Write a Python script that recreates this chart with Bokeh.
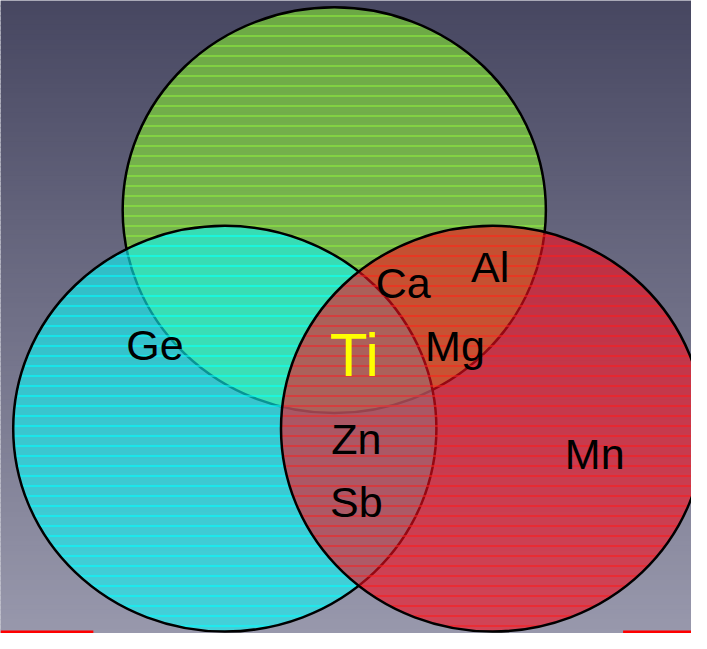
from bokeh.plotting import figure
from bokeh.models import Range1d, ColumnDataSource
from bokeh.core.properties import value
from bokeh.embed import file_html
from bokeh.resources import INLINE

# ---- data ----
set_names = ["green", "cyan", "red"]
elements = ["Ge", "Ca", "Al", "Ti", "Mg", "Zn", "Sb", "Mn"]

# ---- layout (reference pixel frame 707 x 649) ----
set_cx = [341.5, 229.5, 503.5]
set_cy = [215, 439, 439]
set_w = [433, 433, 433]
set_h = [416, 416, 416]
set_fill = ["#85e932", "#0df7f7", "#f70d1e"]
set_hatch = ["#8ef03c", "#00ffff", "#ff1a1a"]

el_x = [158, 412, 501, 362, 465, 364, 364, 608]
el_y = [353, 290, 273, 363, 354, 450, 514, 465]
el_size = ["43px", "43px", "43px", "62px", "43px", "43px", "43px", "43px"]
el_color = ["black", "black", "black", "#ffff00", "black", "black", "black", "black"]

bar_x0 = [0, 637]
bar_x1 = [95, 707]
bar_y = [647.5, 647.5]

W, H = 707, 649
top_rgb = (71, 71, 97)
bot_rgb = (152, 152, 172)

p = figure(width=691, height=633, x_range=Range1d(0, W), y_range=Range1d(H, 0),
           output_backend="svg", toolbar_location=None, min_border=0)
p.axis.visible = False
p.grid.visible = False
p.outline_line_color = None
p.background_fill_color = "#%02x%02x%02x" % bot_rgb
p.border_fill_color = "#%02x%02x%02x" % bot_rgb

# background gradient bands
n = 130
step = H / n
tops, bots, cols = [], [], []
for i in range(n):
    t = i / (n - 1)
    c = tuple(int(round(a + (b - a) * t)) for a, b in zip(top_rgb, bot_rgb))
    tops.append(i * step)
    bots.append(min(H, (i + 1) * step + 1.5))
    cols.append("#%02x%02x%02x" % c)
p.quad(left=0, right=W, top=tops, bottom=bots, fill_color=cols, line_color=None)

# circles (green, cyan, red drawn in this order)
for i in range(3):
    p.ellipse(x=[set_cx[i]], y=[set_cy[i]], width=[set_w[i]], height=[set_h[i]],
              fill_color=set_fill[i], fill_alpha=0.6,
              hatch_pattern="horizontal_line", hatch_color=set_hatch[i],
              hatch_alpha=0.7, hatch_scale=10, hatch_weight=1.6,
              line_color="black", line_width=2.5)

src = ColumnDataSource(dict(x=el_x, y=el_y, t=elements, s=el_size, c=el_color))
p.text(x="x", y="y", text="t", source=src, text_font=value("Liberation Sans"),
       text_font_size="s", text_color="c", text_align="center", text_baseline="middle")

p.segment(x0=bar_x0, y0=bar_y, x1=bar_x1, y1=bar_y, line_color="#ff0000", line_width=3)

open("out.html", "w").write(file_html(p, INLINE))
